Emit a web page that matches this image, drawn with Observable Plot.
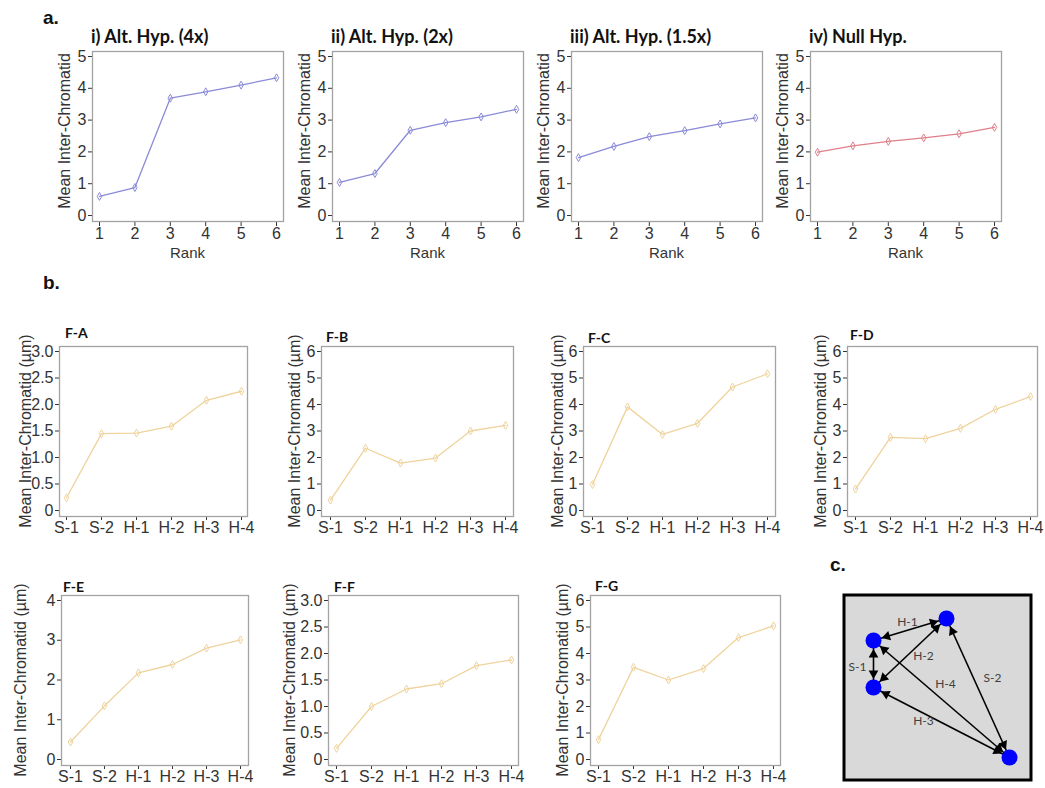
<!DOCTYPE html>
<html><head><meta charset="utf-8">
<script src="https://cdn.jsdelivr.net/npm/d3@7"></script>
<script src="https://cdn.jsdelivr.net/npm/@observablehq/plot@0.6"></script>
<style>
body{margin:0;background:#fff;}
#fig{position:relative;width:1045px;height:788px;overflow:hidden;background:#fff;}
.letter{font-family:"Liberation Sans",Arial,sans-serif;font-weight:bold;font-size:19px;line-height:19px;white-space:nowrap;color:#111;}
.title{font-family:Lato,"Open Sans",sans-serif;font-weight:bold;font-size:18px;line-height:18px;white-space:nowrap;color:#111;}
.sub{font-family:Lato,"Open Sans",sans-serif;font-weight:bold;font-size:14px;line-height:14px;white-space:nowrap;color:#111;}
.ylab{font-family:"Liberation Sans",Arial,sans-serif;font-size:16px;line-height:16px;white-space:nowrap;color:#333;transform:translate(-50%,-50%) rotate(-90deg);}
.xlab{font-family:"Liberation Sans Narrow","Liberation Sans",Arial,sans-serif;font-size:15px;line-height:15px;white-space:nowrap;color:#333;transform:translate(-50%,-50%);}
</style></head><body><div id="fig"></div>
<script>
// ---------- data ----------
const ranks = [1, 2, 3, 4, 5, 6];
const rankYTicks = [0, 1, 2, 3, 4, 5];
const panelATitles = ["i) Alt. Hyp. (4x)", "ii) Alt. Hyp. (2x)", "iii) Alt. Hyp. (1.5x)", "iv) Null Hyp."];
const altHyp4x  = [0.60, 0.88, 3.69, 3.89, 4.10, 4.33];
const altHyp2x  = [1.04, 1.32, 2.68, 2.92, 3.10, 3.34];
const altHyp15x = [1.82, 2.17, 2.48, 2.67, 2.88, 3.07];
const nullHyp   = [1.99, 2.19, 2.33, 2.44, 2.57, 2.77];

const pairs = ["S-1", "S-2", "H-1", "H-2", "H-3", "H-4"];
const panelBTitles = ["F-A", "F-B", "F-C", "F-D", "F-E", "F-F", "F-G"];
const fA = [0.24, 1.45, 1.46, 1.59, 2.08, 2.25];
const fB = [0.39, 2.35, 1.79, 1.98, 3.00, 3.21];
const fC = [0.98, 3.91, 2.87, 3.29, 4.66, 5.16];
const fD = [0.81, 2.76, 2.71, 3.10, 3.82, 4.30];
const fE = [0.44, 1.35, 2.18, 2.39, 2.80, 3.01];
const fF = [0.21, 1.00, 1.33, 1.43, 1.77, 1.88];
const fG = [0.75, 3.48, 3.00, 3.43, 4.60, 5.04];
const ticks3 = [0, 0.5, 1, 1.5, 2, 2.5, 3];
const ticks4 = [0, 1, 2, 3, 4];
const ticks6 = [0, 1, 2, 3, 4, 5, 6];

// panel c: schematic of four foci and pairwise distances
const nodeX = [31, 104, 31, 167];
const nodeY = [47, 25, 94, 164];
const edgeNames = ["H-1", "H-2", "S-1", "H-4", "H-3", "S-2"];
const edgeFrom  = [0, 2, 0, 0, 2, 1];
const edgeTo    = [1, 1, 2, 3, 3, 3];
const edgeLabelX = [65, 81, 15, 103, 81, 150];
const edgeLabelY = [29, 63, 74, 91, 128, 85];

// ---------- layout helpers ----------
const fig = document.getElementById("fig");
function place(el, left, top) {
  el.style.position = "absolute";
  el.style.left = left + "px";
  el.style.top = top + "px";
  fig.appendChild(el);
}
function addText(txt, cls, left, top) {
  const d = document.createElement("div");
  d.className = cls; d.textContent = txt; place(d, left, top);
}
const ML = 64, MR = 8, MT = 8, MB = 30;
const TICKFONT = "'Liberation Sans Narrow', 'Liberation Sans', Arial, sans-serif";

function chart(o) {
  const data = o.xs.map((x, i) => ({x, y: o.ys[i]}));
  const svg = Plot.plot({
    width: ML + o.fw + MR, height: MT + o.fh + MB,
    marginLeft: ML, marginRight: MR, marginTop: MT, marginBottom: MB,
    style: {background: "none", overflow: "visible", color: "#333", fontFamily: TICKFONT},
    x: o.x,
    y: {domain: o.yDomain, ticks: o.yTicks, tickFormat: o.yFormat, tickSize: 4, tickPadding: 2,
        label: null, insetTop: o.insetTop, insetBottom: o.insetBottom},
    marks: [
      Plot.frame({stroke: "#a3a3a3", strokeWidth: 1.3}),
      Plot.line(data, {x: "x", y: "y", stroke: o.color, strokeWidth: 1.3}),
      Plot.dot(data, {x: "x", y: "y", r: 2.4, symbol: "diamond", fill: "none", stroke: o.color, strokeWidth: 1})
    ]
  });
  svg.querySelectorAll("text").forEach(t => {
    t.style.fontSize = o.tickFont + "px"; t.style.fill = "#333"; t.style.fontFamily = TICKFONT;
  });
  place(svg, o.left - ML, o.top - MT);
  addText(o.ylabel, "ylab", o.ylx, o.top + o.fh / 2 + (o.ydy || 0));
  if (o.xlabel) addText(o.xlabel, "xlab", o.left + o.fw / 2, o.xly);
}

// ---------- panel a ----------
addText("a.", "letter", 43, 8);
const aSeries = [altHyp4x, altHyp2x, altHyp15x, nullHyp];
const aColors = ["#8a8ad8", "#8a8ad8", "#8a8ad8", "#e07f8a"];
const aLefts = [92, 332, 571, 810];
aSeries.forEach((ys, i) => {
  addText(panelATitles[i], "title", aLefts[i] - 1, 27);
  chart({
    left: aLefts[i], top: 51, fw: 191, fh: 170, xs: ranks, ys, color: aColors[i], tickFont: 16,
    x: {domain: [1, 6], ticks: ranks, tickFormat: "d", tickSize: 5, tickPadding: 1, inset: 7, label: null},
    yDomain: [0, 5], yTicks: rankYTicks, yFormat: "d",
    ylabel: "Mean Inter-Chromatid", ylx: aLefts[i] - 27, ydy: -5,
    xlabel: "Rank", xly: 252, insetTop: 5, insetBottom: 6
  });
});

// ---------- panel b ----------
addText("b.", "letter", 43, 273);
const fmt1 = d => d === 0 ? "0" : d.toFixed(1);
const bPanels = [
  {ys: fA, ticks: ticks3, fmt: fmt1, left: 59,  top: 346, fw: 188, ylx: 26,  tx: 65,  ty: 326},
  {ys: fB, ticks: ticks6, fmt: "d",  left: 321, top: 346, fw: 192, ylx: 295, tx: 326, ty: 330},
  {ys: fC, ticks: ticks6, fmt: "d",  left: 583, top: 346, fw: 192, ylx: 558, tx: 588, ty: 331},
  {ys: fD, ticks: ticks6, fmt: "d",  left: 847, top: 346, fw: 190, ylx: 821, tx: 850, ty: 328},
  {ys: fE, ticks: ticks4, fmt: "d",  left: 61,  top: 595, fw: 187, ylx: 21,  tx: 63,  ty: 580},
  {ys: fF, ticks: ticks3, fmt: fmt1, left: 328, top: 595, fw: 190, ylx: 290, tx: 334, ty: 580},
  {ys: fG, ticks: ticks6, fmt: "d",  left: 590, top: 595, fw: 190, ylx: 563, tx: 595, ty: 579}
];
bPanels.forEach((p, i) => {
  addText(panelBTitles[i], "sub", p.tx, p.ty);
  chart({
    left: p.left, top: p.top, fw: p.fw, fh: 170, xs: pairs, ys: p.ys, color: "#efd39c", tickFont: 16,
    x: {type: "point", domain: pairs, padding: 0.18, tickSize: 4, tickPadding: 1, label: null},
    yDomain: [0, d3.max(p.ticks)], yTicks: p.ticks, yFormat: p.fmt,
    ylabel: "Mean Inter-Chromatid (µm)", ylx: p.ylx, insetTop: 5, insetBottom: 6
  });
});

// ---------- panel c ----------
addText("c.", "letter", 830, 555);
const NODE_R = 8, HEAD_R = 3.6;
const triHalf = Math.sqrt(Math.PI * HEAD_R * HEAD_R / (3 * Math.sqrt(3)));
const nodes = nodeX.map((x, i) => ({x, y: nodeY[i]}));
const edges = edgeFrom.map((f, i) => ({x1: nodeX[f], y1: nodeY[f], x2: nodeX[edgeTo[i]], y2: nodeY[edgeTo[i]]}));
const heads = [];
edgeFrom.forEach((f, i) => {
  const t = edgeTo[i];
  for (const [a, b] of [[f, t], [t, f]]) {
    const dx = nodeX[b] - nodeX[a], dy = nodeY[b] - nodeY[a], L = Math.hypot(dx, dy);
    const ux = dx / L, uy = dy / L, dist = NODE_R + 0.5 + 2 * triHalf;
    heads.push({x: nodeX[a] + ux * dist, y: nodeY[a] + uy * dist, angle: Math.atan2(-ux, uy) * 180 / Math.PI});
  }
});
const labels = edgeNames.map((name, i) => ({name, x: edgeLabelX[i], y: edgeLabelY[i]}));
const cSvg = Plot.plot({
  width: 190, height: 188, margin: 0,
  style: {background: "none", overflow: "visible"},
  x: {domain: [0, 190], range: [0, 190], axis: null},
  y: {domain: [0, 188], range: [0, 188], axis: null},
  marks: [
    Plot.frame({fill: "#d9d9d9", stroke: "#000", strokeWidth: 3, inset: 1.5}),
    Plot.link(edges, {x1: "x1", y1: "y1", x2: "x2", y2: "y2", stroke: "#000", strokeWidth: 1.6}),
    Plot.dot(heads, {x: "x", y: "y", r: HEAD_R, symbol: "triangle", fill: "#000", rotate: "angle"}),
    Plot.dot(nodes, {x: "x", y: "y", r: NODE_R, fill: "#0000ff"}),
    Plot.text(labels, {x: "x", y: "y", text: "name", fill: "#404040", fontSize: 12, fontFamily: "Lato, 'Open Sans', sans-serif"})
  ]
});
place(cSvg, 842, 593);
</script></body></html>
